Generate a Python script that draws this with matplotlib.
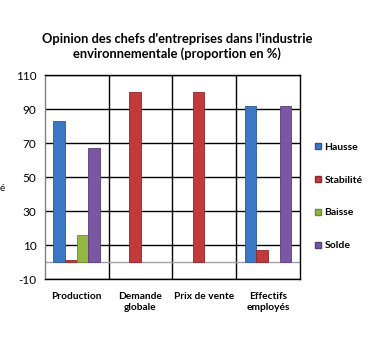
import numpy as np
import matplotlib
matplotlib.use('Agg')
import matplotlib.pyplot as plt
from matplotlib.lines import Line2D

plt.rcParams['font.family'] = ['Lato', 'DejaVu Sans']

categories = ['Production', 'Demande\nglobale', 'Prix de vente', 'Effectifs\nemployés']
series = ['Hausse', 'Stabilité', 'Baisse', 'Solde']
hausse = [83, 0, 0, 92]
stabilite = [1, 100, 100, 7]
baisse = [16, 0, 0, 0]
solde = [67, 0, 0, 92]
values = [hausse, stabilite, baisse, solde]
colors = ['#3b78c4', '#c2393c', '#93b842', '#7a56a3']
edges = ['#2a5a96', '#8f2629', '#6c8a2c', '#583c7c']
yticks = [-10, 10, 30, 50, 70, 90, 110]

fig = plt.figure(figsize=(3.74, 3.37), dpi=100)
ax = fig.add_axes([0.120, 0.172, 0.682, 0.605])

x = np.arange(len(categories))
w = 0.183
for i, (vals, c, e) in enumerate(zip(values, colors, edges)):
    lw = [0.6 if v else 0 for v in vals]
    ax.bar(x + (i - 1.5) * w, vals, w, color=c, edgecolor=e, linewidth=lw, zorder=3)

ax.set_xlim(-0.5, 3.5)
ax.set_ylim(-10, 110)
ax.set_yticks(yticks)
ax.set_yticklabels([str(t) for t in yticks], fontsize=8.5)
for t in yticks:
    ax.axhline(t, color='black', linewidth=1, zorder=1)
ax.axhline(0, color='#a0a0a0', linewidth=1, zorder=2)
for b in [0.5, 1.5, 2.5]:
    ax.axvline(b, color='black', linewidth=1, zorder=1)
ax.set_xticks(x)
ax.set_xticklabels(categories, fontsize=7.3, fontweight='bold', linespacing=1.3, va='top')
ax.tick_params(axis='both', length=0, pad=6)
ax.tick_params(axis='x', pad=9)
for s in ax.spines.values():
    s.set_color('black')
    s.set_linewidth(1)
ax.spines['left'].set_color('#808080')

fig.text(0.473, 0.862, "Opinion des chefs d'entreprises dans l'industrie\nenvironnementale (proportion en %)",
         ha='center', va='center', fontsize=9.3, fontweight='bold', linespacing=1.3)
fig.text(0.0, 0.44, 'é', fontsize=7, ha='left', va='center')

handles = [Line2D([], [], marker='s', linestyle='none', markersize=4.5,
                  markerfacecolor=c, markeredgecolor=e) for c, e in zip(colors, edges)]
leg = fig.legend(handles, series, loc='center left', bbox_to_anchor=(0.815, 0.417),
                 frameon=False, labelspacing=2.25, handletextpad=0.2,
                 handlelength=0.8, prop={'weight': 'bold', 'size': 7.5})

fig.savefig('out.png', dpi=100)
